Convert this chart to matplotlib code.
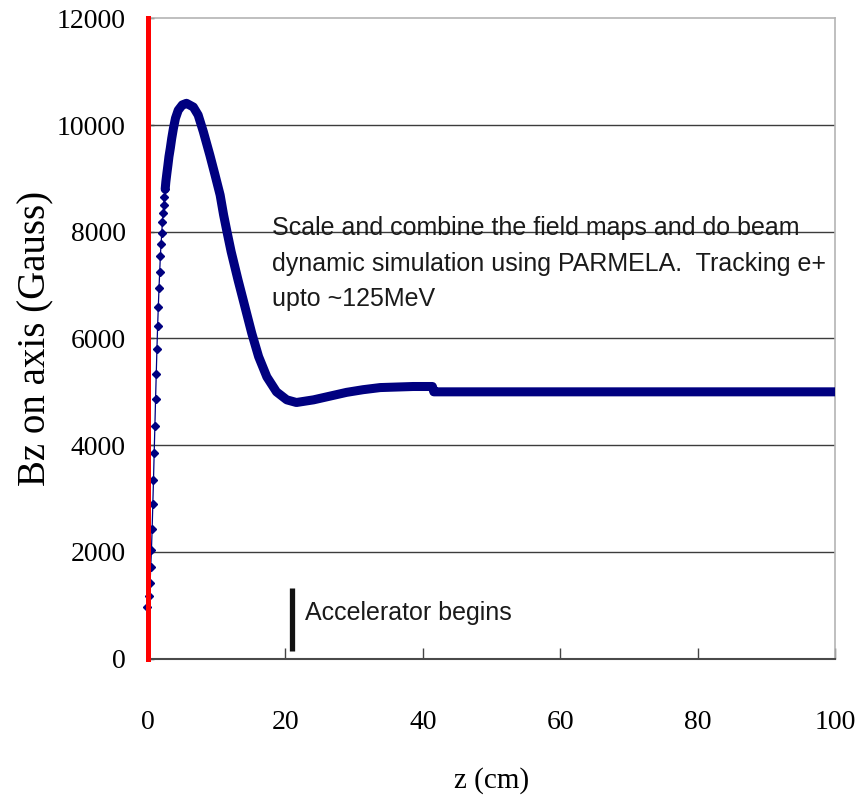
import numpy as np
import matplotlib
import matplotlib.pyplot as plt

matplotlib.use('Agg')

# on-axis field
# steep rise near z=0, drawn as separate markers
z_rise = [-0.2, 0.2, 0.3, 0.4, 0.5, 0.6, 0.7, 0.8, 0.9, 1.0, 1.1, 1.2, 1.3,
          1.4, 1.5, 1.6, 1.7, 1.8, 1.9, 2.0, 2.1, 2.2, 2.3, 2.4, 2.5]
bz_rise = [960, 1180, 1410, 1710, 2030, 2420, 2890, 3350, 3860, 4350, 4860, 5330, 5800,
           6230, 6590, 6940, 7240, 7550, 7770, 7970, 8190, 8350, 8500, 8660, 8800]

# rest of the map (dense points, they merge into a thick band)
z_main = [2.5, 2.6, 2.75, 2.9, 3.05, 3.25, 3.45, 3.7, 4.0, 4.4,
          5.0, 5.6, 6.6, 7.3, 8.05, 9.0, 9.75, 10.5, 11.0, 11.5,
          12.1, 13.1, 14.1, 15.1, 16.1, 17.3, 18.7, 20.2, 21.6, 24.1,
          26.5, 28.9, 31.3, 33.8, 36.2, 38.6, 41.4, 41.6, 50, 60,
          70, 80, 90, 100]
bz_main = [8800, 8940, 9100, 9250, 9410, 9570, 9750, 9940, 10130, 10280,
           10380, 10410, 10340, 10190, 9880, 9440, 9070, 8690, 8320, 8000,
           7630, 7100, 6600, 6100, 5660, 5280, 5000, 4850, 4800, 4850,
           4920, 4990, 5040, 5080, 5090, 5100, 5100, 5000, 5000, 5000,
           5000, 5000, 5000, 5000]

x_ticks = [0, 20, 40, 60, 80, 100]
y_ticks = [0, 2000, 4000, 6000, 8000, 10000, 12000]

accel_z = 21
accel_bz = [140, 1320]

note = ('Scale and combine the field maps and do beam\n'
        'dynamic simulation using PARMELA.  Tracking e+\n'
        'upto ~125MeV')

navy = '#000080'
serif = 'Liberation Serif'
sans = 'Liberation Sans'

fig = plt.figure(figsize=(8.61, 8.06), dpi=100)
ax = fig.add_axes([148 / 861, 1 - 658.5 / 806, (835 - 148) / 861, (658.5 - 18.5) / 806])

ax.set_xlim(0, 100)
ax.set_ylim(0, 12000)

# horizontal grid, top one is the light frame
for yv in y_ticks[1:-1]:
    ax.axhline(yv, color='#3c3c3c', lw=1.0, zorder=1)

ax.plot(z_rise, bz_rise, color=navy, lw=0.9, marker='D', markersize=4.2,
        zorder=3, clip_on=False)
ax.plot(z_main, bz_main, color=navy, lw=6.5, solid_joinstyle='round',
        solid_capstyle='round', zorder=3)

# red line at z = 0
ax.axvline(0, color='red', lw=3.6, zorder=5, clip_on=False)

# marker for start of accelerator
ax.plot([accel_z, accel_z], accel_bz, color='#111111', lw=3.8,
        solid_capstyle='butt', zorder=4)
ax.text(22.85, 860, 'Accelerator begins', family=sans, fontsize=18,
        ha='left', va='center', color='#1a1a1a')

ax.text(18.05, 8300, note, family=sans, fontsize=18, ha='left', va='top',
        linespacing=1.62, color='#1a1a1a')

ax.set_xticks(x_ticks)
ax.set_yticks(y_ticks)
ax.set_xticklabels([str(v) for v in x_ticks], family=serif, fontsize=20)
ax.set_yticklabels([str(v) for v in y_ticks], family=serif, fontsize=20)
ax.tick_params(axis='x', direction='in', length=8, width=1, color='#444444', pad=37)
ax.tick_params(axis='y', direction='in', length=4, width=1, color='#444444', pad=16)

ax.set_xlabel('z (cm)', family=serif, fontsize=21, labelpad=23)
ax.set_ylabel('Bz on axis (Gauss)', family=serif, fontsize=28, labelpad=2)

ax.spines['left'].set_visible(False)
ax.spines['bottom'].set_color('#4a4a4a')
ax.spines['bottom'].set_linewidth(1.5)
for side in ['top', 'right']:
    ax.spines[side].set_color('#b4b4b4')
    ax.spines[side].set_linewidth(1.2)

fig.savefig('out.png', dpi=100)
